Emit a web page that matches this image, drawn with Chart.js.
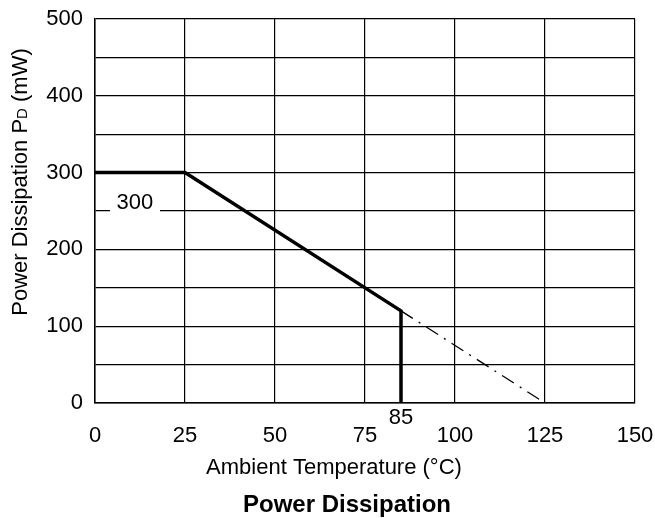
<!DOCTYPE html>
<html>
<head>
<meta charset="utf-8">
<script src="https://cdn.jsdelivr.net/npm/chart.js@4"></script>
<style>
  body { margin: 0; background: #fff; }
  #wrap { width: 655px; height: 518px; }
</style>
</head>
<body>
<div id="wrap"><canvas id="chart" width="655" height="518"></canvas></div>
<script>
// derating curve (solid) and its extension to 125 °C (dash-dot)
const tempSolid = [0, 25, 85, 85];
const powerSolid = [300, 300, 120, 0];
const tempExt = [85, 125];
const powerExt = [120, 0];

const xTicks = [0, 25, 50, 75, 100, 125, 150];
const yLabels = [0, 100, 200, 300, 400, 500];

const font = 'Liberation Sans, Arial, sans-serif';

function toPoints(xs, ys) {
    return xs.map((x, i) => ({ x: x, y: ys[i] }));
}

// titles, the "300" note and the "85" mark
const annotations = {
    id: 'annotations',
    afterDraw(chart) {
        const ctx = chart.ctx;
        const xs = chart.scales.x;
        const ys = chart.scales.y;
        const area = chart.chartArea;
        ctx.save();
        ctx.fillStyle = '#000';
        ctx.textAlign = 'center';
        ctx.textBaseline = 'middle';

        // "300" note on the 250 grid line
        ctx.font = '22px ' + font;
        const nx = xs.getPixelForValue(11.1);
        const gy = ys.getPixelForValue(250);
        ctx.fillStyle = '#fff';
        ctx.fillRect(nx - 25, gy - 2, 50, 4);
        ctx.fillStyle = '#000';
        ctx.fillText('300', nx, gy - 8);

        // "85" below the axis
        ctx.fillText('85', xs.getPixelForValue(85), area.bottom + 15);

        // x title and chart title
        ctx.fillText('Ambient Temperature (°C)', 334, 468);
        ctx.font = 'bold 24px ' + font;
        ctx.fillText('Power Dissipation', 347, 505);

        // y title with subscript D
        const a = 'Power Dissipation P';
        const sub = 'D';
        const b = ' (mW)';
        ctx.font = '22px ' + font;
        const wa = ctx.measureText(a).width;
        const wb = ctx.measureText(b).width;
        ctx.font = '15px ' + font;
        const ws = ctx.measureText(sub).width;
        ctx.translate(27, 182);
        ctx.rotate(-Math.PI / 2);
        const x0 = -(wa + ws + wb) / 2;
        ctx.textAlign = 'left';
        ctx.textBaseline = 'alphabetic';
        ctx.font = '22px ' + font;
        ctx.fillText(a, x0, 0);
        ctx.font = '15px ' + font;
        ctx.fillText(sub, x0 + wa, 0);
        ctx.font = '22px ' + font;
        ctx.fillText(b, x0 + wa + ws, 0);
        ctx.restore();
    }
};

new Chart(document.getElementById('chart'), {
    type: 'scatter',
    data: {
        datasets: [{
            data: toPoints(tempSolid, powerSolid),
            showLine: true,
            borderColor: '#000',
            borderWidth: 3.5,
            pointRadius: 0,
            tension: 0
        }, {
            data: toPoints(tempExt, powerExt),
            showLine: true,
            borderColor: '#000',
            borderWidth: 1.3,
            borderDash: [14, 7, 2, 7],
            pointRadius: 0,
            tension: 0
        }]
    },
    options: {
        responsive: false,
        animation: false,
        layout: { padding: { left: 0, right: 20, top: 19, bottom: 0 } },
        plugins: {
            legend: { display: false },
            tooltip: { enabled: false }
        },
        scales: {
            x: {
                type: 'linear',
                min: 0,
                max: 150,
                afterBuildTicks: s => { s.ticks = xTicks.map(v => ({ value: v })); },
                afterFit: s => { s.height = 115; s.paddingLeft = 0; s.paddingRight = 0; },
                grid: { color: '#000', lineWidth: 1.2, drawTicks: false },
                border: { color: '#000', width: 1.5 },
                ticks: { color: '#000', font: { family: font, size: 22 }, padding: 20, maxRotation: 0 }
            },
            y: {
                min: 0,
                max: 500,
                afterFit: s => { s.width = 95; s.paddingTop = 0; s.paddingBottom = 0; },
                ticks: {
                    stepSize: 50,
                    color: '#000',
                    font: { family: font, size: 22 },
                    padding: 12,
                    callback: v => yLabels.includes(v) ? v : ''
                },
                grid: { color: '#000', lineWidth: 1.2, drawTicks: false },
                border: { color: '#000', width: 1.5 }
            }
        }
    },
    plugins: [annotations]
});
</script>
</body>
</html>
